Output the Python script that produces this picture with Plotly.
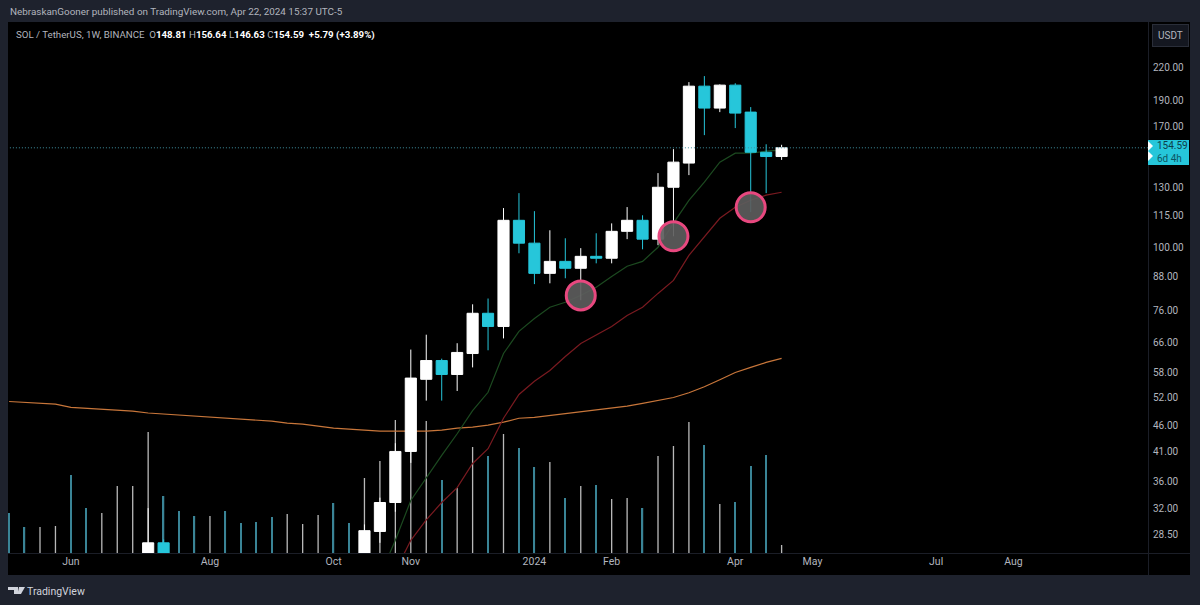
import pandas as pd
import plotly.graph_objects as go

W, H = 1200, 605

# weekly bars, first one is the week of 2023-05-08
dates = pd.date_range("2023-05-08", periods=51, freq="7D")

opens = [21.5, 20.6, 20.0, 20.9, 22.8, 20.0, 15.7, 16.7, 18.9, 21.2, 27.5, 24.1, 24.0, 23.4, 24.0, 23.1, 20.5,
         19.6, 19.2, 19.9, 22.5, 23.0, 23.8, 24.0, 28.9, 32.8, 41.0, 56.2, 61.0, 57.4, 62.9, 75.0, 70.8, 112.6,
         101.9, 89.3, 94.1, 91.3, 96.2, 95.4, 107.3, 112.6, 103.7, 130.1, 144.6, 202.4, 183.9, 203.3, 180.7,
         151.6, 148.81]
highs = [22.3, 21.3, 21.0, 23.0, 23.0, 20.2, 17.5, 19.6, 22.3, 32.0, 27.9, 26.0, 25.0, 24.5, 24.5, 24.0, 22.0,
         21.0, 20.0, 23.0, 24.5, 24.0, 24.3, 29.8, 33.5, 42.5, 64.0, 68.3, 61.5, 65.8, 78.0, 80.0, 118.8, 126.8,
         117.2, 107.8, 104.1, 99.7, 106.4, 111.1, 119.3, 115.1, 138.4, 153.7, 206.0, 211.5, 204.0, 205.0, 184.7,
         157.0, 156.64]
lows = [19.7, 19.8, 19.6, 20.5, 18.9, 14.9, 14.2, 16.1, 18.0, 21.0, 23.0, 22.5, 22.8, 22.5, 22.7, 19.5, 19.4,
        18.8, 18.5, 19.7, 21.5, 21.5, 21.0, 23.5, 27.5, 31.5, 39.0, 51.2, 51.2, 53.4, 59.2, 63.8, 67.2, 97.5,
        85.2, 85.5, 87.4, 79.4, 93.3, 93.3, 103.7, 99.2, 101.0, 105.0, 137.2, 163.4, 180.7, 168.5, 116.7,
        126.8, 146.63]
closes = [20.6, 20.3, 20.9, 22.8, 20.0, 15.7, 16.7, 18.9, 21.2, 27.5, 24.1, 23.5, 23.4, 24.0, 23.1, 20.5, 19.6,
          19.2, 19.9, 22.5, 23.0, 22.1, 22.7, 29.0, 32.8, 41.0, 56.5, 61.0, 57.4, 63.2, 75.0, 70.8, 112.6, 101.9,
          89.3, 94.1, 91.3, 96.2, 95.4, 107.3, 112.6, 103.7, 130.1, 145.2, 202.4, 183.9, 203.3, 179.9, 151.6,
          148.81, 154.59]
volumes = [40, 26, 26, 27, 78, 45, 40, 67, 67, 121, 57, 42, 37, 37, 42, 30, 31, 36, 39, 29, 38, 50, 30, 75, 92,
           133, 130, 132, 73, 65, 106, 97, 119, 105, 86, 91, 55, 67, 68, 54, 55, 45, 97, 107, 131, 108, 49, 51,
           87, 98, 8]

# moving averages, the two short ones start late
green_start = 24
green_ma = [23.8, 27.8, 33.1, 36.6, 40.3, 44.3, 49.0, 53.1, 62.9, 69.3, 73.3, 77.0, 78.7, 81.1, 84.0, 88.1, 92.1,
            94.1, 100.1, 111.2, 122.9, 133.0, 145.2, 151.0, 151.0, 152.3, 153.0]
red_start = 25
red_ma = [24.3, 27.8, 30.4, 32.8, 35.0, 38.9, 41.5, 47.4, 52.6, 55.7, 58.4, 62.1, 65.7, 68.1, 70.8, 74.3, 77.0,
          81.8, 86.6, 96.6, 104.5, 113.6, 119.2, 122.9, 125.7, 127.3]
orange_ma = [51.0, 50.8, 50.6, 50.4, 49.7, 49.5, 49.3, 49.1, 48.9, 48.5, 48.3, 48.0, 47.8, 47.6, 47.4, 47.2, 47.0,
             46.8, 46.4, 46.2, 45.8, 45.4, 45.2, 45.0, 44.8, 44.8, 44.8, 44.8, 45.0, 45.4, 45.6, 46.0, 46.6, 47.4,
             47.6, 48.0, 48.3, 48.7, 49.1, 49.5, 50.0, 50.6, 51.2, 51.9, 53.0, 54.4, 56.1, 57.9, 59.2, 60.5, 61.6]

# the hand drawn circles
circle_bars = [37, 43, 48]
circle_prices = [81.1, 105.0, 119.2]

price_ticks = [220, 190, 170, 130, 115, 100, 88, 76, 66, 58, 52, 46, 41, 36, 32, 28.5]
month_dates = ["2023-06-05", "2023-08-07", "2023-10-02", "2023-11-06", "2024-01-01", "2024-02-05", "2024-04-01",
               "2024-05-06", "2024-07-01", "2024-08-05"]
month_labels = ["Jun", "Aug", "Oct", "Nov", "2024", "Feb", "Apr", "May", "Jul", "Aug"]

last_price = 154.59
countdown = "6d 4h"
publish_line = "NebraskanGooner published on TradingView.com, Apr 22, 2024 15:37 UTC-5"
symbol_name = "SOL / TetherUS, 1W, BINANCE"
ohlc_labels = ["O", "H", "L", "C"]
ohlc_values = ["148.81", "156.64", "146.63", "154.59"]
change_text = "+5.79 (+3.89%)"

PAGE = "#1e222d"
TEAL = "#26c6da"
GREY = "#b2b5be"
FONT = "Roboto"


def px_x(x):
    return x / W


def px_y(y):
    return 1 - y / H


def rect(x0, y0, x1, y1, color, layer="above"):
    return dict(type="rect", xref="paper", yref="paper", x0=px_x(x0), x1=px_x(x1), y0=px_y(y0), y1=px_y(y1),
                fillcolor=color, line_width=0, layer=layer)


def poly(points, color):
    path = "M" + " L".join(f"{px_x(x)} {px_y(y)}" for x, y in points) + " Z"
    return dict(type="path", xref="paper", yref="paper", path=path, fillcolor=color, line_width=0, layer="above")


def label(x, y, text, size=10, color=GREY, anchor="left", **kw):
    return dict(xref="paper", yref="paper", x=px_x(x), y=px_y(y), text=text, showarrow=False, xanchor=anchor,
                yanchor="middle", font=dict(family=FONT, size=size, color=color), **kw)


bar_colors = ["rgba(255,255,255,0.72)" if c >= o else "#3a8496" for o, c in zip(opens, closes)]
week_ms = 7 * 24 * 3600 * 1000

fig = go.Figure()

fig.add_trace(go.Bar(x=dates, y=volumes, width=week_ms * 0.085, marker=dict(color=bar_colors, line_width=0),
                     yaxis="y"))

fig.add_trace(go.Scatter(x=dates, y=orange_ma, mode="lines", line=dict(color="#c8763a", width=1.2), yaxis="y2"))
fig.add_trace(go.Scatter(x=dates[green_start:], y=green_ma, mode="lines", line=dict(color="#1c4a20", width=1.2),
                         yaxis="y2"))
fig.add_trace(go.Scatter(x=dates[red_start:], y=red_ma, mode="lines", line=dict(color="#7a1a20", width=1.2),
                         yaxis="y2"))

fig.add_trace(go.Candlestick(x=dates, open=opens, high=highs, low=lows, close=closes, yaxis="y3",
                             increasing=dict(line=dict(color="#ffffff", width=1), fillcolor="#ffffff"),
                             decreasing=dict(line=dict(color=TEAL, width=1), fillcolor=TEAL)))

fig.add_trace(go.Scatter(x=dates[circle_bars], y=circle_prices, mode="markers", yaxis="y3",
                         marker=dict(size=29, color="rgba(92,92,92,0.92)", line=dict(color="#e8487f", width=3))))

header = f'<span style="color:{GREY}">{symbol_name}</span>  '
for name, value in zip(ohlc_labels, ohlc_values):
    header += f'<span style="color:{GREY}">{name}</span><span style="color:#ffffff"><b>{value}</b></span> '
header += f' <span style="color:#ffffff"><b>{change_text}</b></span>'

shapes = [
    rect(8, 22, 1190, 575, "#000000", layer="below"),
    rect(1148, 22, 1149, 575, "#1b1e27"),
    rect(8, 553, 1190, 554, "#1b1e27"),
    dict(type="line", xref="x", yref="y3", x0=dates[0] - pd.Timedelta(days=1), x1=pd.Timestamp("2024-10-05"),
         y0=last_price, y1=last_price, line=dict(color="#3f8f9f", width=1, dash="1px,2px"), layer="above"),
    rect(1148, 140, 1189, 165, TEAL),
    poly([(1148, 141), (1153, 146), (1148, 151)], "#ffffff"),
    poly([(1148, 151), (1153, 156), (1148, 161)], "#ffffff"),
    # logo
    poly([(8, 587), (18, 587), (18, 594), (14, 594), (14, 590), (8, 590)], "#d1d4dc"),
    poly([(19, 587), (25, 587), (21, 594), (17.5, 594)], "#d1d4dc"),
]

annotations = [
    label(8, 12, publish_line, size=9.9),
    label(14, 35, header, size=9.7),
    label(1170, 36, "USDT", size=10, anchor="center", bgcolor="#141720", bordercolor="#2a2e39", borderwidth=1,
          borderpad=5),
    label(1155, 152.5, f'<span style="color:#0d3f4a">{last_price:.2f}</span><br>{countdown}', size=10,
          color="#0d5563", align="left"),
    label(25, 591, "TradingView", size=10.5, color="#d1d4dc"),
]

y_price = dict(type="log", range=[1.4200, 2.4280], domain=[px_y(553), px_y(22)], showgrid=False, zeroline=False)

fig.update_layout(
    width=W, height=H, autosize=False,
    margin=dict(l=0, r=0, t=0, b=0),
    paper_bgcolor=PAGE, plot_bgcolor="#000000",
    showlegend=False, hovermode=False, barmode="overlay",
    boxgap=0.1, boxgroupgap=0.2,
    font=dict(family=FONT, size=10, color=GREY),
    shapes=shapes, annotations=annotations,
    xaxis=dict(type="date", domain=[px_x(8), px_x(1148)], range=["2023-05-07 12:00", "2024-10-05"],
               tickmode="array", tickvals=month_dates, ticktext=month_labels, ticks="", showgrid=False,
               zeroline=False, showline=False, rangeslider=dict(visible=False), tickfont=dict(size=10.5, color=GREY)),
    yaxis=dict(range=[0, 531], domain=[px_y(553), px_y(22)], visible=False),
    yaxis2=dict(overlaying="y", visible=False, **y_price),
    yaxis3=dict(overlaying="y", side="right", anchor="x", tickmode="array", tickvals=price_ticks,
                tickformat=".2f", ticks="", showline=False, ticklabelstandoff=4,
                tickfont=dict(size=10, color=GREY), **y_price),
)

# browser default body margin would push the 1200x605 figure off the window
fig.write_html("out.html", post_script="document.body.style.margin = '0';",
               config={"displayModeBar": False})
